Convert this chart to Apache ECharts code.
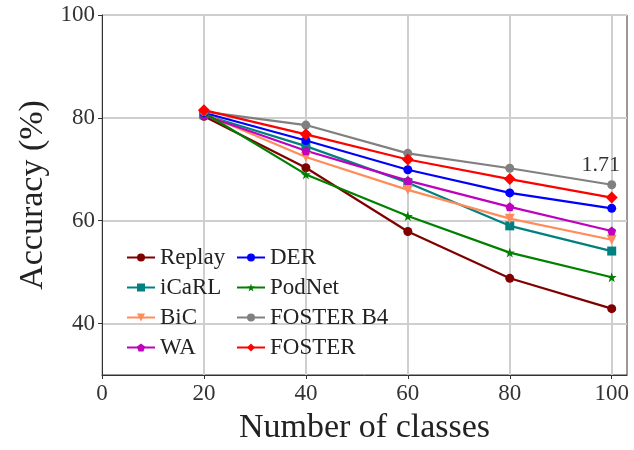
<!DOCTYPE html>
<html>
<head>
<meta charset="utf-8">
<script src="https://cdn.jsdelivr.net/npm/echarts@6/dist/echarts.min.js"></script>
<style>
  html, body { margin: 0; padding: 0; background: #fff; }
  #chart { width: 634px; height: 450px; }
</style>
</head>
<body>
<div id="chart"></div>
<script>
// data
var classes = [20, 40, 60, 80, 100];
var xTicks = [0, 20, 40, 60, 80, 100];
var yTicks = [40, 60, 80, 100];

var replay   = [80.3, 70.3, 57.9, 48.8, 42.9];
var icarl    = [80.6, 74.5, 67.4, 59.0, 54.1];
var bic      = [80.8, 72.4, 66.0, 60.4, 56.3];
var wa       = [80.5, 73.6, 67.8, 62.7, 58.0];
var der      = [81.0, 75.6, 69.9, 65.4, 62.4];
var podnet   = [81.0, 69.0, 60.9, 53.8, 49.0];
var fosterB4 = [81.2, 78.6, 73.1, 70.2, 67.0];
var foster   = [81.5, 76.8, 71.9, 68.1, 64.5];

var font = '"Liberation Serif", "DejaVu Serif", serif';

var triDown = 'path://M0,0 L10,0 L5,9 Z';
var star = 'path://M5,0 L6.2,3.6 L10,3.6 L6.9,5.9 L8.1,9.5 L5,7.3 L1.9,9.5 L3.1,5.9 L0,3.6 L3.8,3.6 Z';
var pentagon = 'path://M5,0 L10,3.8 L8.1,10 L1.9,10 L0,3.8 Z';

function pairs(arr) {
  return arr.map(function (v, i) { return [classes[i], v]; });
}

function line(name, arr, color, symbol, size) {
  return {
    name: name,
    type: 'line',
    data: pairs(arr),
    symbol: symbol,
    symbolSize: size,
    lineStyle: { color: color, width: 2.2 },
    itemStyle: { color: color },
    emphasis: { disabled: true }
  };
}

var series = [
  line('Replay', replay, '#800000', 'circle', 9),
  line('iCaRL', icarl, '#008080', 'rect', 9),
  line('BiC', bic, '#FF8C5A', triDown, 10),
  line('WA', wa, '#BF00BF', pentagon, 9),
  line('DER', der, '#0000FF', 'circle', 9),
  line('PodNet', podnet, '#008000', star, 10),
  line('FOSTER B4', fosterB4, '#808080', 'circle', 9),
  line('FOSTER', foster, '#FF0000', 'diamond', 12)
];

// "1.71" annotation on the last FOSTER B4 point
series[6].label = {
  show: true,
  formatter: function (p) { return p.dataIndex === 4 ? '1.71' : ''; },
  position: 'top',
  offset: [-11, 1],
  fontFamily: font,
  fontSize: 22,
  color: '#333'
};

var legendText = { fontFamily: font, fontSize: 23, color: '#222' };

var option = {
  animation: false,
  grid: {
    left: 102, right: 7, top: 15, bottom: 69,
    show: true, borderColor: '#333', borderWidth: 1
  },
  legend: [
    {
      data: ['Replay', 'iCaRL', 'BiC', 'WA'],
      orient: 'vertical', left: 121, top: 241,
      itemWidth: 28, itemHeight: 10, itemGap: 7,
      textStyle: legendText
    },
    {
      data: ['DER', 'PodNet', 'FOSTER B4', 'FOSTER'],
      orient: 'vertical', left: 231, top: 241,
      itemWidth: 28, itemHeight: 10, itemGap: 7,
      textStyle: legendText
    }
  ],
  xAxis: {
    type: 'value',
    min: 0, max: 103,
    name: 'Number of classes',
    nameLocation: 'middle',
    nameGap: 36,
    nameTextStyle: { fontFamily: font, fontSize: 34, color: '#222' },
    axisLine: { lineStyle: { color: '#333', width: 1 } },
    axisTick: { show: true, customValues: xTicks, length: 4, lineStyle: { color: '#333' } },
    axisLabel: { customValues: xTicks, fontFamily: font, fontSize: 23, color: '#333', margin: 7 },
    splitLine: { show: true, lineStyle: { color: '#cfcfcf', width: 2 } }
  },
  yAxis: {
    type: 'value',
    min: 30, max: 100,
    name: 'Accuracy (%)',
    nameLocation: 'middle',
    nameGap: 47,
    nameTextStyle: { fontFamily: font, fontSize: 34, color: '#222' },
    axisLine: { lineStyle: { color: '#333', width: 1 } },
    axisTick: { show: true, customValues: yTicks, length: 4, lineStyle: { color: '#333' } },
    axisLabel: { customValues: yTicks, fontFamily: font, fontSize: 23, color: '#333', margin: 7 },
    splitLine: { show: true, lineStyle: { color: '#cfcfcf', width: 2 } }
  },
  series: series
};

var chart = echarts.init(document.getElementById('chart'));
chart.setOption(option);
</script>
</body>
</html>
